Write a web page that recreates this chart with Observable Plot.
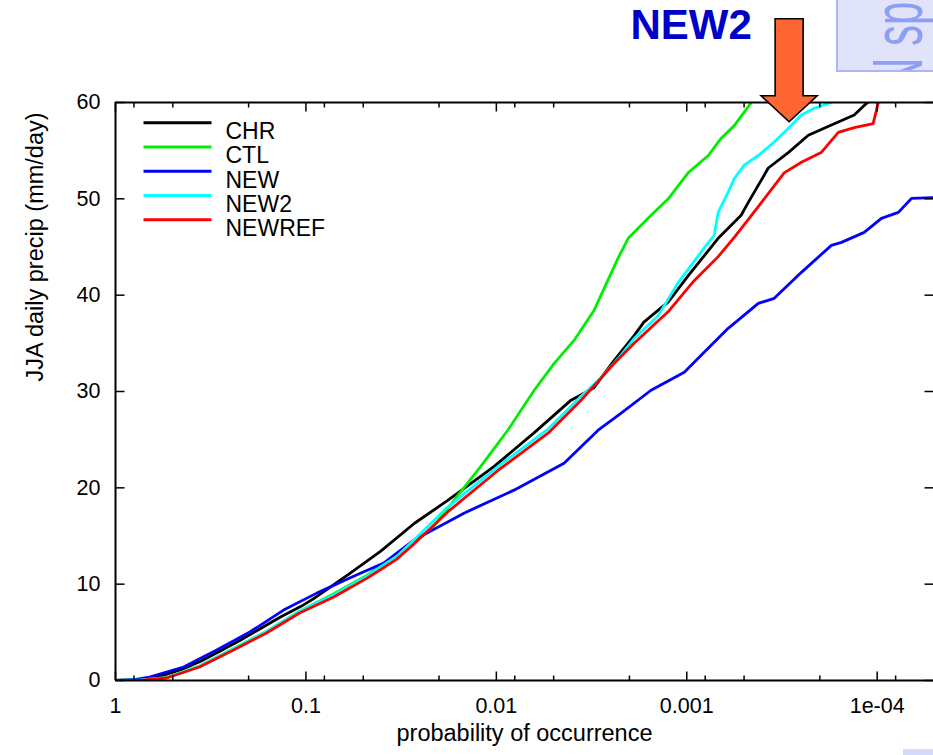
<!DOCTYPE html>
<html>
<head>
<meta charset="utf-8">
<script src="https://cdn.jsdelivr.net/npm/d3@7"></script>
<script src="https://cdn.jsdelivr.net/npm/@observablehq/plot@0.6"></script>
<style>
  body { margin: 0; background: #fff; }
  #wrap { position: relative; width: 933px; height: 755px; overflow: hidden; font-family: "Liberation Sans", Arial, sans-serif; }
  #chart { position: absolute; left: 0; top: 0; }
  #slide-tab { position: absolute; left: 836px; top: 0; width: 110px; height: 72px; background: #e1e3fb;
               border-left: 2px solid #aab6f6; border-bottom: 2px solid #aab6f6; box-sizing: border-box; overflow: hidden; }
  #slide-foot { position: absolute; left: 903px; top: 749px; width: 40px; height: 8px; background: #d4dafa; }
</style>
</head>
<body>
<div id="wrap">
  <div id="chart"></div>
  <div id="slide-tab">
    <svg width="110" height="72"><text transform="translate(84,88) rotate(-90) scale(0.6,1)" font-size="70" fill="#8d9ff2" font-family="Liberation Sans, Arial, sans-serif">N sp</text></svg>
  </div>
  <div id="slide-foot"></div>
</div>
<script>
// Exceedance curves: daily JJA precipitation (mm/day) against probability of occurrence
const chrP = [1, 0.74, 0.58, 0.455, 0.357, 0.28, 0.22, 0.173, 0.136, 0.106, 0.091, 0.06, 0.0406, 0.027, 0.018, 0.0103, 0.00634, 0.00405, 0.00307, 0.00241, 0.00189, 0.00168, 0.00125, 0.000984, 0.000684, 0.000518, 0.000476, 0.000373, 0.000293, 0.00023, 0.000168, 0.000132, 0.000117, 0.000112];
const chrV = [0, 0.1, 0.45, 1.1, 2.0, 3.1, 4.2, 5.4, 6.6, 7.7, 8.5, 11.0, 13.4, 16.3, 18.7, 22.2, 25.7, 29.1, 30.4, 33.2, 35.8, 37.2, 39.3, 42.0, 45.9, 48.3, 49.6, 53.2, 54.8, 56.6, 57.8, 58.7, 59.7, 60];

const ctlP = [1, 0.74, 0.539, 0.362, 0.24, 0.161, 0.108, 0.0714, 0.0479, 0.0406, 0.0317, 0.0221, 0.0167, 0.0121, 0.00869, 0.00634, 0.00498, 0.00391, 0.00307, 0.00282, 0.0023, 0.00203, 0.00154, 0.00125, 0.000984, 0.000771, 0.000659, 0.000563, 0.000499, 0.000458];
const ctlV = [0, 0.05, 0.3, 1.5, 3.3, 5.1, 7.2, 9.0, 10.9, 11.9, 13.5, 15.6, 18.7, 22.2, 26.0, 30.1, 32.9, 35.3, 38.4, 40.0, 43.8, 45.9, 48.3, 50.0, 52.7, 54.5, 56.3, 57.6, 59.0, 60];

const newP = [1, 0.8, 0.662, 0.439, 0.294, 0.197, 0.131, 0.0877, 0.0589, 0.039, 0.0271, 0.0148, 0.00808, 0.00441, 0.00292, 0.00221, 0.00154, 0.00103, 0.00084, 0.000606, 0.000421, 0.000347, 0.00025, 0.000174, 0.000154, 0.000117, 0.000095, 0.0000774, 0.0000661, 0.00005];
const newV = [0, 0.1, 0.36, 1.4, 3.16, 5.03, 7.31, 9.07, 10.63, 12.19, 14.57, 17.37, 19.76, 22.56, 25.98, 27.75, 30.13, 32.0, 33.76, 36.56, 39.15, 39.67, 42.37, 45.17, 45.48, 46.52, 47.97, 48.59, 50.04, 50.14];

const new2P = [1, 0.74, 0.539, 0.362, 0.24, 0.161, 0.108, 0.0714, 0.0479, 0.0406, 0.0333, 0.027, 0.018, 0.00981, 0.00535, 0.00359, 0.00282, 0.00221, 0.00189, 0.00141, 0.00111, 0.000948, 0.00081, 0.000718, 0.000684, 0.000606, 0.000563, 0.000499, 0.000421, 0.000347, 0.000293, 0.00025, 0.000214, 0.000174];
const new2V = [0, 0.05, 0.3, 1.5, 3.3, 5.1, 7.2, 8.9, 10.8, 11.8, 12.9, 14.6, 18.0, 22.2, 26.1, 29.5, 31.4, 33.8, 35.5, 37.9, 41.3, 43.1, 44.9, 46.2, 48.6, 50.7, 52.1, 53.5, 54.5, 55.9, 57.3, 58.7, 59.4, 60];

const newrefP = [1, 0.75, 0.539, 0.362, 0.24, 0.161, 0.108, 0.0714, 0.0479, 0.0406, 0.0333, 0.027, 0.018, 0.00981, 0.00535, 0.00359, 0.00241, 0.00189, 0.00125, 0.000915, 0.000684, 0.000563, 0.000421, 0.000308, 0.00025, 0.000197, 0.00016, 0.000132, 0.000105, 0.0000986];
const newrefV = [0, 0.02, 0.26, 1.4, 3.16, 4.93, 7.0, 8.66, 10.6, 11.5, 12.6, 14.2, 17.5, 21.8, 25.67, 29.09, 32.9, 35.0, 38.3, 41.5, 44.0, 46.0, 49.2, 52.7, 53.8, 54.8, 56.9, 57.4, 57.8, 60];

const seriesNames = ["CHR", "CTL", "NEW", "NEW2", "NEWREF"];
const seriesColors = ["#000000", "#00ee00", "#0000ff", "#00ffff", "#ff0000"];
const seriesP = [chrP, ctlP, newP, new2P, newrefP];
const seriesV = [chrV, ctlV, newV, new2V, newrefV];

const xTickValues = [1, 0.1, 0.01, 0.001, 1e-4];
const xTickLabels = ["1", "0.1", "0.01", "0.001", "1e-04"];
const xMinorTicks = [0.8, 0.5, 0.2, 0.08, 0.05, 0.02, 0.008, 0.005, 0.002, 0.0008, 0.0005, 0.0002, 0.00008];
const yTickValues = [0, 10, 20, 30, 40, 50, 60];

const xLabel = "probability of occurrence";
const yLabel = "JJA daily precip (mm/day)";

// Callout pointing at the NEW2 curve
const callout = [{label: "NEW2", p: 2.9e-4, v: 58}];

const rows = seriesNames.flatMap((name, k) =>
  seriesP[k].map((p, i) => ({series: name, p, v: seriesV[k][i]})));

// Short stroke used for inward tick marks and legend samples
const stub = (dx, dy) => ({draw(ctx) { ctx.moveTo(0, 0); ctx.lineTo(dx, dy); }});
// Block arrow with its tip at the anchor point
const blockArrow = {draw(ctx) {
  ctx.moveTo(0, 0); ctx.lineTo(-28, -26); ctx.lineTo(-14, -26); ctx.lineTo(-14, -103);
  ctx.lineTo(14, -103); ctx.lineTo(14, -26); ctx.lineTo(28, -26); ctx.closePath();
}};

const font = '"Liberation Sans", Arial, Helvetica, sans-serif';
const tickStyle = {stroke: "#000", strokeWidth: 1.5, fill: "none"};

const chart = Plot.plot({
  width: 933,
  height: 755,
  marginLeft: 115,
  marginRight: 0,
  marginTop: 102,
  marginBottom: 75,
  style: {fontFamily: font, fontSize: "21.5px", color: "#000", background: "transparent"},
  x: {type: "log", domain: [1, 5e-5], range: [115, 934]},
  y: {domain: [0, 60]},
  marks: [
    ...seriesNames.map((name, k) =>
      Plot.line(rows.filter(d => d.series === name), {x: "p", y: "v", stroke: seriesColors[k], strokeWidth: 2.8, clip: true})),
    // frame: bottom/top and left edges
    Plot.ruleY([0, 60], {stroke: "#000", strokeWidth: 2}),
    Plot.ruleX([1], {stroke: "#000", strokeWidth: 2}),
    // inward ticks on all four sides
    Plot.dot(xTickValues, {x: d => d, frameAnchor: "bottom", symbol: stub(0, -9), ...tickStyle}),
    Plot.dot(xTickValues, {x: d => d, frameAnchor: "top", symbol: stub(0, 9), ...tickStyle}),
    Plot.dot(xMinorTicks, {x: d => d, frameAnchor: "bottom", symbol: stub(0, -5), ...tickStyle}),
    Plot.dot(xMinorTicks, {x: d => d, frameAnchor: "top", symbol: stub(0, 5), ...tickStyle}),
    Plot.dot(yTickValues, {y: d => d, frameAnchor: "left", symbol: stub(9, 0), ...tickStyle}),
    Plot.dot(yTickValues, {y: d => d, frameAnchor: "right", symbol: stub(-9, 0), ...tickStyle}),
    // tick labels
    Plot.axisX(xTickValues, {anchor: "bottom", tickSize: 0, tickPadding: 17, label: null,
      tickFormat: d => xTickLabels[xTickValues.indexOf(d)], fontSize: 21.5}),
    Plot.axisY(yTickValues, {anchor: "left", tickSize: 0, tickPadding: 15, label: null, fontSize: 21.5}),
    // axis titles
    Plot.text([xLabel], {text: d => d, frameAnchor: "bottom", dy: 60, fontSize: 23.5}),
    Plot.text([yLabel], {text: d => d, frameAnchor: "left", dx: -80, dy: -10, rotate: -90, fontSize: 23.5}),
    // legend
    ...seriesNames.map((name, k) =>
      Plot.dot([name], {frameAnchor: "top-left", dx: 28, dy: 20.3 + k * 24.25, symbol: stub(68, 0),
        stroke: seriesColors[k], strokeWidth: 3, fill: "none"})),
    ...seriesNames.map((name, k) =>
      Plot.text([name], {text: d => d, frameAnchor: "top-left", dx: 110, dy: 20.3 + k * 24.25,
        textAnchor: "start", fontSize: 23})),
    // callout
    Plot.dot(callout, {x: "p", y: "v", symbol: blockArrow, fill: "#ff6633", stroke: "#000", strokeWidth: 1.6}),
    Plot.text(callout, {x: "p", y: "v", text: "label", dx: -98, dy: -96, fontSize: 42,
      fontWeight: "bold", fill: "#0000c8"})
  ]
});

document.getElementById("chart").appendChild(chart);
</script>
</body>
</html>
